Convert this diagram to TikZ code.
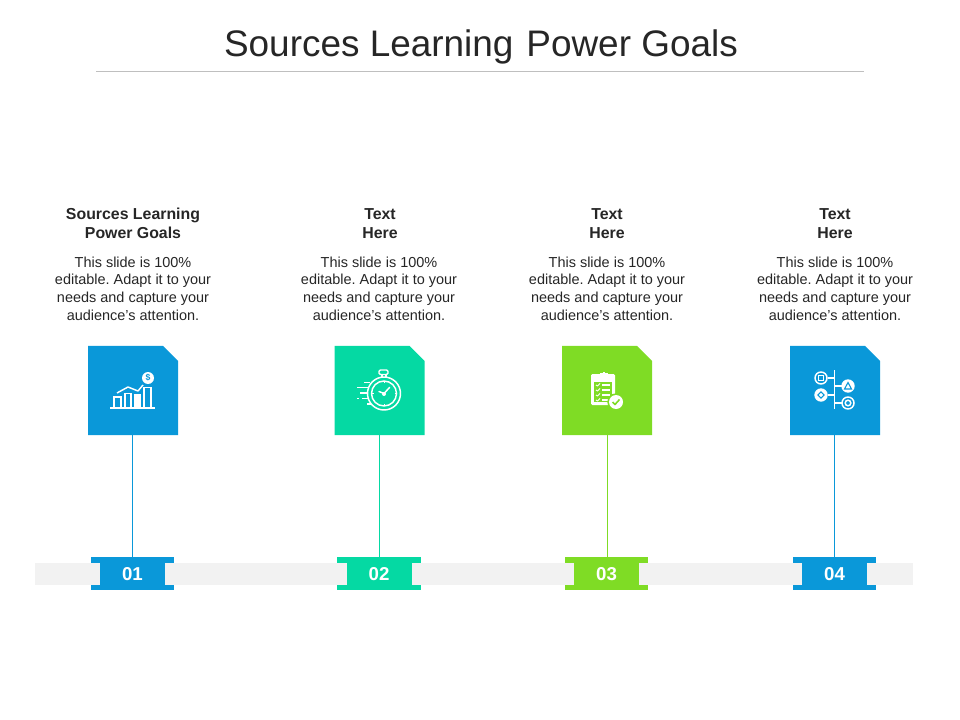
\documentclass[tikz,border=0pt]{standalone}
\usepackage{fontspec}
\setmainfont{Liberation Sans}
\definecolor{cblue}{HTML}{0A98D9}
\definecolor{cteal}{HTML}{05D9A3}
\definecolor{clime}{HTML}{7FDC25}
\definecolor{band}{HTML}{F2F2F2}
\definecolor{ink}{HTML}{262626}
\tikzset{
 card/.style={draw=none,inner sep=0pt,outer sep=0pt,minimum width=67.5pt,minimum height=67pt},
 badge/.style={fill=#1,draw=none,inner sep=0pt,outer sep=0pt,minimum width=48.75pt,minimum height=18pt,text=white,
   font=\fontsize{14}{14}\selectfont\bfseries},
 bartop/.style={fill=#1,draw=none,inner sep=0pt,outer sep=0pt,minimum width=62.3pt,minimum height=4.1pt},
 barbot/.style={fill=#1,draw=none,inner sep=0pt,outer sep=0pt,minimum width=62.3pt,minimum height=3.4pt},
 headtxt/.style={align=center,text=ink,inner sep=0pt,font=\fontsize{11.9}{14.3}\selectfont\bfseries},
 bodytxt/.style={align=center,text=ink,inner sep=0pt,font=\fontsize{10.85}{13.2}\selectfont},
 ic/.style={draw=white,line width=1.1pt,fill=none},
}
\newcommand{\bodytext}{This slide is 100\%\\editable. Adapt it to your\\needs and capture your\\audience's attention.}
\newcommand{\cardfill}[2]{\fill[#2] (#1.north west) -- ([xshift=-11.25pt]#1.north east) -- ([yshift=-11.25pt]#1.north east) -- (#1.south east) -- (#1.south west) -- cycle;}
% connector as a thin ribbon from a card to its badge: card, bar, colour, left offset, right offset
\newcommand{\linkribbon}[5]{\fill[#3] ([xshift=#4]#1.south) rectangle ([xshift=#5]#1.south |- #2.north);}
\frenchspacing
\begin{document}
\begin{tikzpicture}[x=0.75pt,y=-0.75pt]
\useasboundingbox (0,0) rectangle (960,720);
\node[inner sep=0pt,text=ink,font=\fontsize{27.7}{28}\selectfont] (title) at (481,47) {Sources Learning\hspace{2pt} Power Goals};
\coordinate (ruleL) at (96,71.5); \coordinate (ruleR) at (864,71.5);
\draw[draw=black!25,line width=0.8pt] (ruleL) -- (ruleR);
\fill[band] (35,563) rectangle (913,585);

% columns
\node[headtxt] (h1) at (133,223.5) {Sources Learning\\Power Goals};
\node[headtxt] (h2) at (380,223.5) {Text\\Here};
\node[headtxt] (h3) at (607,223.5) {Text\\Here};
\node[headtxt] (h4) at (835,223.5) {Text\\Here};
\node[bodytxt] (t1) at (133,288.5) {\bodytext};
\node[bodytxt] (t2) at (379,288.5) {\bodytext};
\node[bodytxt] (t3) at (607,288.5) {\bodytext};
\node[bodytxt] (t4) at (835,288.5) {\bodytext};

\node[card] (c1) at (133,390.5) {};
\node[card] (c2) at (379.5,390.5) {};
\node[card] (c3) at (607,390.5) {};
\node[card] (c4) at (835,390.5) {};
\cardfill{c1}{cblue}
\cardfill{c2}{cteal}
\cardfill{c3}{clime}
\cardfill{c4}{cblue}

\node[badge=cblue] (b1) at (132.5,574) {01};
\node[badge=cteal] (b2) at (379,574) {02};
\node[badge=clime] (b3) at (606.5,574) {03};
\node[badge=cblue] (b4) at (834.5,574) {04};
\foreach \n/\x/\cc in {1/132.5/cblue,2/379/cteal,3/606.5/clime,4/834.5/cblue}{
  \node[bartop=\cc] (bt\n) at (\x,560) {};
  \node[barbot=\cc] (bb\n) at (\x,587.3) {};
}
\linkribbon{c1}{bt1}{cblue}{-0.9pt}{0.1pt}
\linkribbon{c2}{bt2}{cteal}{-0.5pt}{0.5pt}
\linkribbon{c3}{bt3}{clime}{-0.1pt}{0.9pt}
\linkribbon{c4}{bt4}{cblue}{-0.9pt}{0.1pt}

% icon 1: chart
\draw[ic] (110,408) -- (155,408);
\draw[ic] (114,408) rectangle (121,397);
\draw[ic] (125,408) rectangle (131,393.5);
\fill[white] (134,408) rectangle (141,394);
\draw[ic] (144,408) rectangle (151,387.5);
\draw[ic,line join=round] (117,393) -- (128,387) -- (138,391) -- (143,385);
\fill[white] (148,378) circle (6);
\node[inner sep=0pt,text=cblue,font=\fontsize{6.5}{6.5}\selectfont\bfseries] (dollar) at (148,378) {\$};

% icon 2: stopwatch
\draw[ic] (384,393.5) circle (16.5);
\draw[ic] (384,393.5) circle (12.5);
\draw[ic,rounded corners=1pt] (379,370) rectangle (388,374.5);
\draw[ic] (382,374.5) -- (382,377);
\draw[ic] (386,374.5) -- (386,377);
\draw[ic,line cap=round] (384,393.5) -- (389.5,387.5);
\draw[ic,line cap=round] (384,393.5) -- (379,391.5);
\fill[white] (384,394) circle (2);
\foreach \a in {0,90,180,270}{\draw[white,line width=0.7pt] (384,393.5)++(\a:-10.5) -- ++(\a:-1.5);}
\draw[ic] (364,382.5) -- (370,382.5);
\draw[ic] (357,387.5) -- (367.5,387.5);
\draw[ic] (360,393) -- (366.5,393);
\draw[ic] (357,398.5) -- (358.5,398.5);
\draw[ic] (362,398.5) -- (368,398.5);
\draw[ic] (367,404) -- (371,404);

% icon 3: clipboard
\fill[white,rounded corners=1pt] (591,374) rectangle (615,405);
\fill[clime] (594,381.5) rectangle (612,402);
\fill[white] (600,373) rectangle (608,378);
\fill[white] (603,372) rectangle (605,373);
\foreach \y in {385,390,395,400}{
  \draw[white,line width=0.7pt,line join=round] (596,\y) -- (597.5,\y+1) -- (600,\y-1.5);
  \draw[white,line width=0.9pt] (602,\y) -- (610,\y);
}
\fill[clime] (616,402) circle (8.7);
\fill[white] (616,402) circle (7);
\draw[clime,line width=1.2pt,line join=round] (612.5,402) -- (615,404.5) -- (619.5,399.5);

% icon 4: tree
\draw[ic] (834.5,370) -- (834.5,409);
\draw[ic] (827.5,378) -- (834.5,378);
\draw[ic] (827.5,395) -- (834.5,395);
\draw[ic] (834.5,386) -- (842,386);
\draw[ic] (834.5,403) -- (842,403);
\draw[ic] (821,378) circle (6);
\draw[ic] (818.7,375.7) rectangle (823.3,380.3);
\fill[white] (821,395) circle (6.7);
\draw[cblue,line width=0.8pt] (821,391.8) -- (824.2,395) -- (821,398.2) -- (817.8,395) -- cycle;
\fill[white] (848,386) circle (6.7);
\draw[cblue,line width=0.8pt,line join=miter] (848,382.5) -- (851.5,389) -- (844.5,389) -- cycle;
\draw[ic] (848,403) circle (6);
\draw[ic] (848,403) circle (2.8);
\end{tikzpicture}
\end{document}
